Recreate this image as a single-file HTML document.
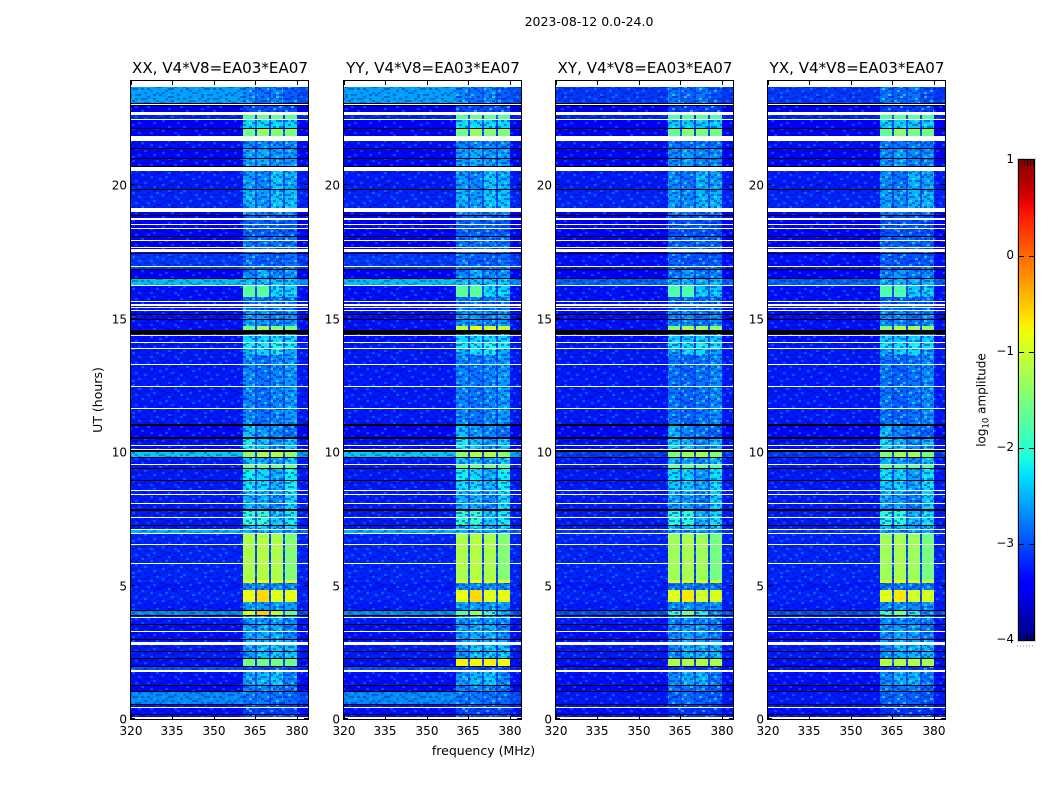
<!DOCTYPE html>
<html>
<head>
<meta charset="utf-8">
<title>2023-08-12 0.0-24.0</title>
<style>
html,body{margin:0;padding:0;background:#fff;}
svg{display:block;}
text{font-family:"DejaVu Sans","Liberation Sans",sans-serif;fill:#000;}
</style>
</head>
<body>
<svg id="chart" xmlns="http://www.w3.org/2000/svg" width="1050" height="800" viewBox="0 0 1050 800">
  <rect x="0" y="0" width="1050" height="800" fill="#fff"/>
  <text x="589" y="26" font-size="12.5" text-anchor="middle">2023-08-12 0.0-24.0</text>
  <text x="102" y="400" font-size="12.5" text-anchor="middle" transform="rotate(-90 102 400)">UT (hours)</text>
  <text x="483.5" y="755" font-size="12.5" text-anchor="middle">frequency (MHz)</text>
  <text x="985.5" y="400" font-size="12" text-anchor="middle" transform="rotate(-90 985.5 400)">log<tspan font-size="8.5" dy="3">10</tspan><tspan dy="-3"> amplitude</tspan></text>
  <defs id="defs"></defs>
  <g id="panels"></g>
  <g id="colorbar"></g>
</svg>
<script>
const panelNames = ["XX", "YY", "XY", "YX"];
const panelSuffix = ", V4*V8=EA03*EA07";
const xTickValues = [320, 335, 350, 365, 380];
const yTickValues = [0, 5, 10, 15, 20];
const colorTickValues = [1, 0, -1, -2, -3, -4];

const segStart = [0,.18,.55,1.01,1.26,1.77,1.98,2.26,2.77,2.96,
  3.53,3.88,4.07,4.38,4.83,5.09,5.22,6.94,7.1,7.24,
  7.8,8.5,8.95,9.36,9.5,9.78,10.06,10.5,11,13.26,
  13.63,13.86,14.08,14.34,14.57,14.72,15.28,15.82,16.22,16.49,
  16.85,17.45,18.06,18.87,19.15,19.85,20.52,21.38,21.65,21.85,
  22.15,22.43,22.62,23.06];
const bgCo = [-3.3,-3.3,-2.7,-3.35,-3.3,-3.0,-3.3,-3.25,-3.3,-3.3,
  -3.25,-2.7,-3.25,-3.2,-3.25,-3.2,-3.2,-2.5,-3.25,-3.25,
  -3.25,-3.25,-3.25,-3.25,-3.25,-2.4,-3.3,-3.35,-3.25,-3.25,
  -3.25,-3.25,-3.3,-3.4,-3.3,-3.3,-3.3,-3.3,-2.45,-3.45,
  -3.1,-3.4,-3.35,-3.4,-3.2,-3.25,-3.35,-3.3,-3.3,-3.4,
  -3.4,-3.2,-3.5,-2.6];
const bgHigh = [-3.3,-3.3,-3.0,-3.35,-3.3,-3.2,-3.3,-3.25,-3.3,-3.3,
  -3.25,-3.0,-3.25,-3.2,-3.25,-3.2,-3.2,-2.9,-3.25,-3.25,
  -3.25,-3.25,-3.25,-3.25,-3.25,-2.6,-3.3,-3.35,-3.25,-3.25,
  -3.25,-3.25,-3.3,-3.4,-3.3,-3.3,-3.3,-3.3,-2.7,-3.45,
  -3.1,-3.4,-3.35,-3.4,-3.2,-3.25,-3.35,-3.3,-3.3,-3.4,
  -3.4,-3.2,-3.5,-3.0];
const bgCross = [-3.3,-3.3,-3.25,-3.35,-3.3,-3.3,-3.3,-3.25,-3.3,-3.3,
  -3.25,-3.0,-3.25,-3.2,-3.25,-3.2,-3.2,-3.1,-3.25,-3.25,
  -3.25,-3.25,-3.25,-3.25,-3.25,-3.1,-3.3,-3.35,-3.25,-3.25,
  -3.25,-3.25,-3.3,-3.4,-3.3,-3.3,-3.3,-3.3,-2.9,-3.45,
  -3.3,-3.4,-3.35,-3.4,-3.2,-3.25,-3.35,-3.3,-3.3,-3.4,
  -3.4,-3.2,-3.5,-3.1];
const band1 = [-3,-3.05,-2.8,-2.7,-2.6,-3,-1.55,-2.6,-2.5,-2.6,
  -2.6,-1.0,-2.6,-0.8,-2.7,-0.9,-1.2,-2.5,-2.4,-2.0,
  -2.5,-2.3,-2.2,-1.5,-2.4,-1.4,-2.2,-2.4,-2.7,-2.7,
  -2.5,-2.2,-2.3,-2.8,-1.6,-2.6,-2.8,-1.7,-2.4,-2.7,
  -2.8,-2.8,-2.9,-2.7,-2.5,-2.6,-2.6,-2.7,-2.7,-1.6,
  -2.3,-1.7,-3,-2.7];
const band2 = [-3,-3.05,-2.75,-2.7,-2.45,-3,-1.55,-2.4,-2.5,-2.5,
  -2.6,-0.55,-2.6,-0.6,-2.7,-0.8,-1.15,-2.5,-2.4,-2.0,
  -2.5,-2.3,-2.3,-1.5,-2.5,-1.2,-2.4,-2.6,-2.8,-2.8,
  -2.3,-2.2,-2.3,-2.8,-1.3,-2.6,-2.8,-1.7,-2.4,-2.5,
  -2.9,-2.8,-2.9,-2.7,-2.6,-2.7,-2.5,-2.7,-2.7,-1.35,
  -2.3,-1.6,-3,-2.8];
const band3 = [-3,-3.05,-2.8,-2.7,-2.4,-3,-1.55,-2.4,-2.5,-2.5,
  -2.6,-1.2,-2.6,-0.9,-2.7,-0.9,-1.2,-2.5,-2.5,-2.4,
  -2.7,-2.5,-2.5,-1.5,-2.6,-1.2,-2.6,-2.7,-2.7,-2.7,
  -2.2,-2.1,-2.3,-2.8,-1.4,-2.7,-2.8,-2.3,-2.4,-2.7,
  -2.9,-2.8,-2.9,-2.7,-2.4,-2.4,-2.6,-2.7,-2.7,-1.45,
  -2.3,-1.6,-3,-2.7];
const band4 = [-3,-3.05,-2.85,-2.8,-2.7,-3,-1.6,-2.4,-2.5,-2.7,
  -2.7,-1.7,-2.6,-0.85,-2.7,-0.95,-1.45,-2.5,-2.4,-2.2,
  -2.3,-2.2,-2.2,-1.6,-2.4,-1.4,-2.4,-2.8,-2.6,-2.6,
  -2.5,-2.2,-2.3,-2.8,-1.5,-2.6,-2.8,-2.3,-2.4,-2.6,
  -2.8,-2.8,-2.9,-2.7,-2.4,-2.5,-2.6,-2.7,-2.7,-1.5,
  -2.3,-1.7,-3,-2.9];
const gapLevel = -3.0;
const boostYY = {6: 0.8, 11: -0.8, 34: 0.5};
const boostXY = {6: 0.45, 11: -0.9, 34: 0.2};
const boostYX = {6: 0.45, 11: -0.9, 34: 0.2};
const freqEdges = [320, 360.6, 365, 365.6, 370, 370.6, 375, 375.6, 380, 384];

const whiteFlagStart = [23.69,23.01,22.62,22.43,21.65,20.52,19.01,18.71,18.49,18.35,
  17.9,17.64,17.49,16.92,16.22,15.63,15.49,15.38,15.28,14.34,
  14.08,13.86,13.26,12.43,11.61,10.22,10.09,9.5,8.53,8.38,
  8.06,7.53,7.08,6.94,6.52,5.81,3.79,3.26,2.77,1.77,
  .42,.01];
const whiteFlagEnd = [23.9,23.05,22.75,22.48,21.85,20.66,19.15,18.75,18.54,18.4,
  17.94,17.69,17.6,16.97,16.25,15.67,15.54,15.42,15.32,14.38,
  14.11,13.9,13.3,12.47,11.65,10.26,10.12,9.55,8.58,8.43,
  8.1,7.57,7.12,6.98,6.55,5.84,3.83,3.3,2.9,1.85,
  .46,.09];
const blackFlagStart = [23.06,22.97,22.12,21.38,20.99,20.71,19.82,18.87,18.06,17.42,
  16.82,16.49,15.13,14.94,14.42,10.98,10.5,10,9.78,9.36,
  8.95,7.8,7.24,4.06,3.86,3.52,2.95,2.52,2.25,1.96,
  1.24,1.01,.51,.14];
const blackFlagEnd = [23.09,23,22.15,21.4,21.01,20.73,19.85,18.89,18.1,17.45,
  16.85,16.52,15.17,14.98,14.57,11.05,10.56,10.06,9.81,9.39,
  8.97,7.85,7.27,4.08,3.9,3.55,2.98,2.55,2.27,1.98,
  1.26,1.06,.55,.18];

const speckleTile = [
  "010020001100200100012000",
  "100100210001010002100101",
  "002010000120000110001020",
  "110001100002101000200100",
  "000200011010000201010010",
  "021000100001200010000201",
  "100011002100010100120000",
  "000100000110002001001012",
  "012000120001001000210100",
  "100102001000110020000001",
  "001000010200000101100210",
  "200011000010210000010000",
  "010000201100001002001101",
  "001200010002100100100020",
  "100010100100000011002000",
  "000101002001020000010110"
];

const NS = "http://www.w3.org/2000/svg";
const plotTop = 81, plotBottom = 719, plotWidth = 177;
const panelLefts = [131, 344, 556, 768];
const freqMin = 320, freqMax = 384, hourMax = 23.9;
const colorMin = -4, colorMax = 1;
const cbLeft = 1019, cbRight = 1034, cbTop = 160, cbBottom = 640;
const speckleCeiling = -1.9;

function xScale(left, f) { return left + (f - freqMin) * plotWidth / (freqMax - freqMin); }
function yScale(h) { return plotBottom - h * (plotBottom - plotTop) / hourMax; }
function cbScale(v) { return cbBottom - (v - colorMin) * (cbBottom - cbTop) / (colorMax - colorMin); }
function ramp(t, pts) {
  for (let i = 1; i < pts.length; i++) {
    if (t <= pts[i][0]) {
      const a = pts[i - 1], b = pts[i];
      return a[1] + (b[1] - a[1]) * (t - a[0]) / (b[0] - a[0]);
    }
  }
  return pts[pts.length - 1][1];
}
function jet(v) {
  const t = Math.max(0, Math.min(1, (v - colorMin) / (colorMax - colorMin)));
  const r = ramp(t, [[0,0],[.35,0],[.66,1],[.89,1],[1,.5]]);
  const g = ramp(t, [[0,0],[.125,0],[.375,1],[.64,1],[.91,0],[1,0]]);
  const b = ramp(t, [[0,.5],[.11,1],[.34,1],[.65,0],[1,0]]);
  return "rgb(" + Math.round(r * 255) + "," + Math.round(g * 255) + "," + Math.round(b * 255) + ")";
}
function make(tag, parent, attrs) {
  const el = document.createElementNS(NS, tag);
  for (const k in attrs) el.setAttribute(k, attrs[k]);
  parent.appendChild(el);
  return el;
}

const defs = document.getElementById("defs");
const panelsGroup = document.getElementById("panels");
const cellW = 3, cellH = 2;
function buildPattern(id, darkColor, darkOpacity, lightColor, lightOpacity) {
  const tileW = speckleTile[0].length, tileH = speckleTile.length;
  const pattern = make("pattern", defs, {id: id, patternUnits: "userSpaceOnUse", width: cellW * tileW, height: cellH * tileH});
  speckleTile.forEach(function (rowText, r) {
    rowText.split("").forEach(function (ch, c) {
      if (ch === "0") return;
      make("rect", pattern, {
        x: c * cellW, y: r * cellH, width: cellW, height: cellH,
        fill: ch === "1" ? darkColor : lightColor,
        "fill-opacity": ch === "1" ? darkOpacity : lightOpacity
      });
    });
  });
}
buildPattern("speckleBg", "#000060", 0.3, "#00e0ff", 0.3);
buildPattern("speckleBand", "#0000c0", 0.45, "#40ffd0", 0.55);

function segmentLevels(panel, s) {
  const cross = panel >= 2;
  const boosts = [{}, boostYY, boostXY, boostYX][panel];
  const bo = boosts[s] || 0;
  const lo = cross ? bgCross[s] : bgCo[s];
  const hi = cross ? bgCross[s] : bgHigh[s];
  const crossTrim = cross ? -0.08 : 0;
  return [lo, band1[s] + bo + crossTrim, gapLevel, band2[s] + bo + crossTrim, gapLevel,
          band3[s] + bo + crossTrim, gapLevel, band4[s] + bo + crossTrim, hi];
}

panelNames.forEach(function (name, p) {
  const left = panelLefts[p];
  const g = make("g", panelsGroup, {});
  
  

  const cells = make("g", g, {"shape-rendering": "crispEdges"});
  
  
  segStart.forEach(function (start, s) {
    const end = s + 1 < segStart.length ? segStart[s + 1] : hourMax;
    const levels = segmentLevels(p, s);
    levels.forEach(function (v, c) {
      const x0 = Math.round(xScale(left, freqEdges[c]));
      const x1 = Math.round(xScale(left, freqEdges[c + 1]));
      const y0 = Math.round(yScale(end));
      const y1 = Math.round(yScale(start));
      const cell = make("rect", cells, {x: x0, y: y0, width: x1 - x0, height: y1 - y0, fill: jet(v)});
      
      
      if (v < speckleCeiling) {
        const isBand = c >= 1 && c <= 7 && c % 2 === 1;
        const grain = make("rect", cells, {x: x0, y: y0, width: x1 - x0, height: y1 - y0, fill: isBand ? "url(#speckleBand)" : "url(#speckleBg)"});
        
        
      }
    });
  });

  function flagLine(start, end, color, label) {
    const y0 = Math.round(yScale(end));
    const h = Math.max(1, Math.round(yScale(start)) - y0);
    const line = make("rect", g, {x: left, y: y0, width: plotWidth, height: h, fill: color, "shape-rendering": "crispEdges"});
    
    
  }
  whiteFlagStart.forEach(function (st, i) { flagLine(st, whiteFlagEnd[i], "#fff", "flagged-blank-row"); });
  blackFlagStart.forEach(function (st, i) { flagLine(st, blackFlagEnd[i], "#000", "flagged-zero-row"); });

  const frame = make("rect", g, {x: left - 0.5, y: plotTop - 0.5, width: plotWidth + 1, height: plotBottom - plotTop + 1, fill: "none", stroke: "#000", "stroke-width": 1, "shape-rendering": "crispEdges"});
  
  

  xTickValues.forEach(function (f) {
    const x = Math.round(xScale(left, f));
    const t1 = make("line", g, {x1: x + .5, x2: x + .5, y1: plotBottom, y2: plotBottom - 4, stroke: "#000"});
    
    
    const t2 = make("line", g, {x1: x + .5, x2: x + .5, y1: plotTop, y2: plotTop + 4, stroke: "#000"});
    
    
    const lab = make("text", g, {x: x, y: 735, "font-size": 12, "text-anchor": "middle"});
    lab.textContent = String(f);
    
    
  });
  yTickValues.forEach(function (h) {
    const y = Math.round(yScale(h));
    const t1 = make("line", g, {x1: left, x2: left + 4, y1: y - .5, y2: y - .5, stroke: "#000"});
    
    
    const t2 = make("line", g, {x1: left + plotWidth, x2: left + plotWidth - 4, y1: y - .5, y2: y - .5, stroke: "#000"});
    
    
    const lab = make("text", g, {x: left - 4, y: y + 4.5, "font-size": 12, "text-anchor": "end"});
    lab.textContent = String(h);
    
    
  });

  const title = make("text", g, {x: left + plotWidth / 2 + 0.5, y: 73, "font-size": 15.1, "text-anchor": "middle"});
  title.textContent = name + panelSuffix;
  
  
});

const cb = document.getElementById("colorbar");
const grad = make("linearGradient", defs, {id: "jetGrad", x1: 0, x2: 0, y1: 1, y2: 0});
for (let i = 0; i <= 50; i++) {
  const v = colorMin + (colorMax - colorMin) * i / 50;
  make("stop", grad, {offset: (i / 50), "stop-color": jet(v)});
}
const halo = make("rect", cb, {x: cbLeft - 1.5, y: cbTop - 1.5, width: cbRight - cbLeft + 3, height: cbBottom - cbTop + 3, fill: "none", stroke: "#d4d4d4", "stroke-width": 1, "shape-rendering": "crispEdges"});


const cbFill = make("rect", cb, {x: cbLeft - .5, y: cbTop - .5, width: cbRight - cbLeft + 1, height: cbBottom - cbTop + 1, fill: "url(#jetGrad)", stroke: "#000", "stroke-width": 1});



colorTickValues.forEach(function (v) {
  const y = Math.round(cbScale(v));
  if (v !== colorMax && v !== colorMin) {
    const t1 = make("line", cb, {x1: cbLeft, x2: cbLeft + 5, y1: y + .5, y2: y + .5, stroke: "#000"});
    
    
    const t2 = make("line", cb, {x1: cbRight - 5, x2: cbRight, y1: y + .5, y2: y + .5, stroke: "#000"});
    
    
  }
  const lab = make("text", cb, {x: 1014, y: y + 3, "font-size": 12, "text-anchor": "end"});
  lab.textContent = v < 0 ? "\u2212" + Math.abs(v) : String(v);
  
  
});

const minorTickOffsets = [1, 2, 3, 4];
minorTickOffsets.forEach(function (n) {
  const x = cbLeft + 2.5 + n * 3;
  const topTick = make("line", cb, {x1: x, x2: x, y1: cbTop, y2: cbTop + 6, stroke: "#000", "stroke-opacity": .7});
  
  
  const botTick = make("line", cb, {x1: x, x2: x, y1: cbBottom, y2: cbBottom - 6, stroke: "#000", "stroke-opacity": .7});
  
  
});
const dots = make("line", cb, {x1: 1017, x2: 1035, y1: 646, y2: 646, stroke: "#888", "stroke-width": 1, "stroke-dasharray": "1 2"});


</script>
</body>
</html>
